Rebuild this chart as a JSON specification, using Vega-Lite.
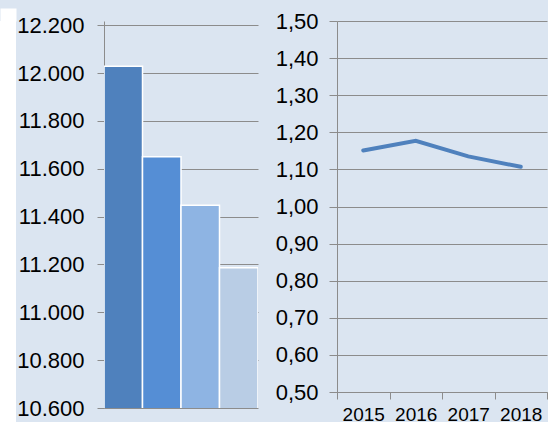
{
  "$schema": "https://vega.github.io/schema/vega-lite/v6.json",
  "background": "#dbe5f1",
  "padding": 0,
  "spacing": 0,
  "config": {
    "font": "Liberation Sans",
    "axis": {
      "labelFont": "Liberation Sans",
      "labelColor": "#000000",
      "domainColor": "#8c8c8c",
      "tickColor": "#8c8c8c",
      "gridColor": "#8c8c8c",
      "gridOpacity": 1,
      "title": null
    },
    "title": {"font": "Liberation Sans"}
  },
  "hconcat": [
    {
      "width": 16,
      "height": 401,
      "view": {"fill": "white", "stroke": null},
      "data": {"values": [{"strip": "left"}]},
      "mark": {"type": "rect", "color": "white"},
      "encoding": {
        "x": {"field": "strip", "type": "nominal",
              "scale": {"paddingInner": 0, "paddingOuter": 0},
              "axis": {"orient": "top", "labels": false, "domain": false, "grid": false,
                       "ticks": true, "tickSize": 13, "tickWidth": 16, "tickColor": "white",
                       "tickOpacity": 1}},
        "y": {"field": "strip", "type": "nominal", "axis": null,
              "scale": {"paddingInner": 0, "paddingOuter": 0}}
      }
    },
    {
      "spacing": 17,
      "hconcat": [
        {
          "width": 154,
          "height": 387,
          "view": {"stroke": null},
          "data": {"values": [
            {"year": "2015", "value": 12029},
            {"year": "2016", "value": 11650},
            {"year": "2017", "value": 11448},
            {"year": "2018", "value": 11186}
          ]},
          "mark": {"type": "bar", "stroke": "white", "strokeWidth": 1.5, "clip": true},
          "encoding": {
            "x": {"field": "year", "type": "nominal", "axis": null,
                  "scale": {"paddingInner": 0, "paddingOuter": 0}},
            "y": {"field": "value", "type": "quantitative",
                  "scale": {"domain": [10600, 12218], "zero": false, "nice": false},
                  "axis": {
                    "values": [10600, 10800, 11000, 11200, 11400, 11600, 11800, 12000, 12200],
                    "labelExpr": "replace(format(datum.value, ','), ',', '.')",
                    "labelFontSize": 22,
                    "labelPadding": 13,
                    "tickSize": 7,
                    "grid": true
                  }},
            "color": {"field": "year", "type": "nominal", "legend": null,
                      "scale": {"domain": ["2015", "2016", "2017", "2018"],
                                "range": ["#4f81bd", "#558ed5", "#8eb4e3", "#b9cde5"]}}
          }
        },
        {
          "width": 210,
          "height": 371,
          "title": {"text": " ", "fontSize": 6, "offset": 4},
          "view": {"stroke": null},
          "data": {"values": [
            {"year": "2015", "ratio": 1.151},
            {"year": "2016", "ratio": 1.177},
            {"year": "2017", "ratio": 1.135},
            {"year": "2018", "ratio": 1.107}
          ]},
          "mark": {"type": "line", "color": "#4f81bd", "strokeWidth": 4, "strokeCap": "round"},
          "encoding": {
            "x": {"field": "year", "type": "nominal",
                  "scale": {"type": "band", "paddingInner": 0, "paddingOuter": 0},
                  "axis": {"labelAngle": 0, "labelFontSize": 19, "tickBand": "extent",
                           "tickSize": 7, "labelPadding": 6, "grid": false}},
            "y": {"field": "ratio", "type": "quantitative",
                  "scale": {"domain": [0.5, 1.5], "zero": false, "nice": false},
                  "axis": {
                    "values": [0.5, 0.6, 0.7, 0.8, 0.9, 1.0, 1.1, 1.2, 1.3, 1.4, 1.5],
                    "labelExpr": "replace(format(datum.value, '.2f'), '.', ',')",
                    "labelFontSize": 22,
                    "labelPadding": 11,
                    "tickSize": 8,
                    "grid": true
                  }}
          }
        }
      ]
    }
  ]
}
